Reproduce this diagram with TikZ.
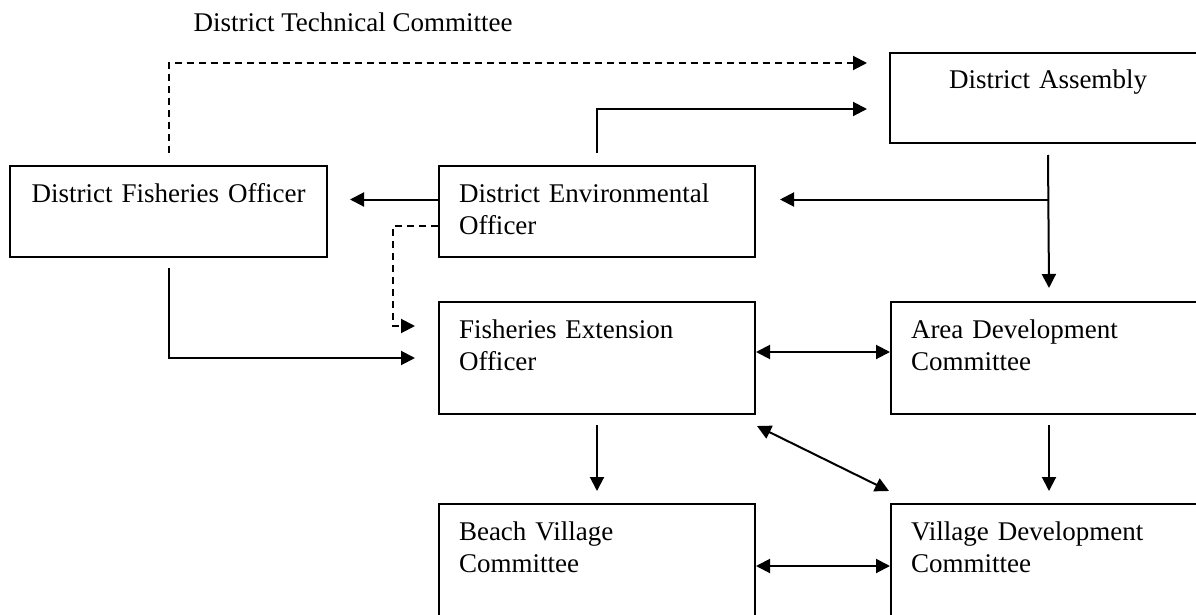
\documentclass[tikz,border=0pt]{standalone}
\usepackage{fontspec}
\setmainfont{Liberation Serif}
\usetikzlibrary{arrows.meta,calc}

\begin{document}
\begin{tikzpicture}[
  x=1pt, y=-1pt,
  font=\fontsize{27}{32}\selectfont,
  unit/.style={draw, line width=2pt, anchor=north west, inner xsep=20pt, inner ysep=0pt,
    text width=276pt, align=left, text height=36pt},
  short/.style={unit, text depth=55pt},
  tall/.style={unit, text depth=76pt},
  arr/.style={-{Triangle[length=14pt,width=14pt]}, line width=2pt},
  darr/.style={arr, dash pattern=on 7pt off 5pt},
  both/.style={{Triangle[length=14pt,width=14pt]}-{Triangle[length=14pt,width=14pt]}, line width=2pt}
]
\useasboundingbox (0,0) rectangle (1196,615);
\clip (0,0) rectangle (1196,615);

\node[anchor=base west] (dtc) at (190,32) {District Technical Committee};

% district level
\node[short, align=center, inner xsep=10pt, text width=297pt] (dfo) at (9,165) {District Fisheries Officer};
\node[short] (deo) at (438,165) {District Environmental\\Officer};
\node[short, align=center, text depth=54pt] (da) at (889,52) {District Assembly};

% area and village level
\node[tall] (feo) at (438,301) {Fisheries Extension\\Officer};
\node[tall] (adc) at (890,301) {Area Development\\Committee};
\node[tall, text depth=100pt] (bvc) at (438,503) {Beach Village\\Committee};
\node[tall, text depth=100pt] (vdc) at (890,503) {Village Development\\Committee};

% lines up to the assembly
\draw[darr] ([yshift=12pt]dfo.north) |- ([xshift=-22pt,yshift=-11pt]da.north west);
\draw[arr] ([yshift=12pt]deo.north) |- ([xshift=-22pt,yshift=-11pt]da.west);

% assembly down and across
\coordinate (split) at ($(da.south |- deo.east)+(0,-12)$);
\draw[arr] ([yshift=-11pt]da.south) -- ([yshift=13pt]adc.north);
\draw[arr] (split) -- ([xshift=24pt,yshift=12pt]deo.east);
\draw[arr] ([yshift=12pt]deo.west) -- ([xshift=22pt,yshift=12pt]dfo.east);

% into the extension officer
\draw[darr] ([yshift=-14.5pt]deo.west) -- ++(-45,0) |- ([xshift=-23pt,yshift=32pt]feo.west);
\draw[arr] ([yshift=-10pt]dfo.south) |- ([xshift=-23pt]feo.west);

% committees
\draw[both] ([yshift=6pt]feo.east) -- ([yshift=6pt]adc.west);
\draw[arr] ([yshift=-10pt]feo.south) -- ([yshift=12pt]bvc.north);
\draw[arr] ([yshift=-10pt]adc.south) -- ([yshift=12pt]vdc.north);
\draw[both] ([xshift=1pt,yshift=-11pt]feo.south east) -- ([xshift=-1pt,yshift=12pt]vdc.north west);
\draw[both] ([yshift=-63pt]bvc.north east) -- ([yshift=-63pt]vdc.north west);
\end{tikzpicture}
\end{document}
